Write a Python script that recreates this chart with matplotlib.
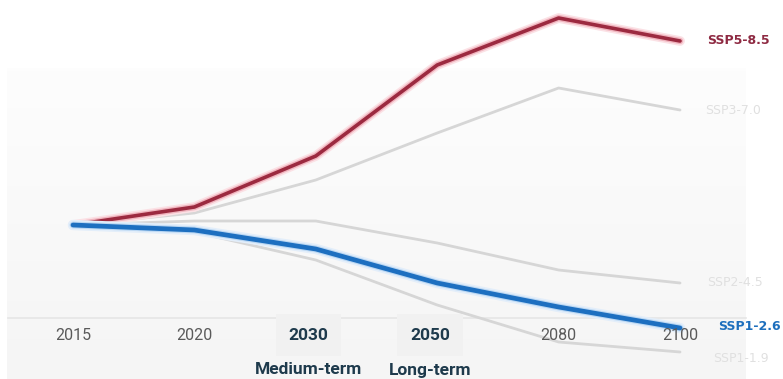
import numpy as np
import matplotlib
matplotlib.use('Agg')
import matplotlib.pyplot as plt
import matplotlib.patheffects as pe

plt.rcParams['font.family'] = ['Roboto', 'DejaVu Sans']

# データ (2015年を基準にした相対値)
years = ['2015', '2020', '2030', '2050', '2080', '2100']
ssp585 = [0, 18, 69, 160, 207, 184]
ssp370 = [0, 12, 45, 92, 137, 115]
ssp245 = [0, 4, 4, -18, -45, -58]
ssp126 = [0, -5, -24, -58, -82, -103]
ssp119 = [0, -7, -35, -80, -117, -127]
bold_years = ['2030', '2050']
term_labels = {'2030': 'Medium-term', '2050': 'Long-term'}

fig = plt.figure(figsize=(7.83, 3.79), dpi=100)
ax = fig.add_axes([0, 0, 1, 1])
ax.set_xlim(-0.601, 5.848)
ax.set_ylim(-154, 225)
ax.axis('off')

# 背景のグラデーション
grad = np.linspace(0, 1, 100).reshape(-1, 1)
ax.imshow(grad, extent=[-0.54, 5.54, -154, 157], aspect='auto',
          cmap=matplotlib.colors.LinearSegmentedColormap.from_list('bg', ['#f5f5f5', '#fdfdfd']),
          origin='lower', zorder=0)
ax.axhline(-93, xmin=0.01, xmax=0.953, color='#e6e6e6', lw=1.2, zorder=1)

x = np.arange(len(years))

# グレーの線
for s in [ssp370, ssp245, ssp119]:
    ax.plot(x, s, color='#d6d6d6', lw=2, zorder=2, solid_capstyle='round')

# 強調する線
ax.plot(x, ssp585, color='#9c2a40', lw=2.6, zorder=4, solid_capstyle='round',
        path_effects=[pe.Stroke(linewidth=7, foreground='#fbe1e5'),
                      pe.Stroke(linewidth=4.6, foreground='#f0b4be'), pe.Normal()])
ax.plot(x, ssp126, color='#1d6fc0', lw=3.4, zorder=5, solid_capstyle='round',
        path_effects=[pe.Stroke(linewidth=7.5, foreground='#e3eefa'),
                      pe.Stroke(linewidth=5.0, foreground='#bcd8f3'), pe.Normal()])

# 右側のラベル
lab = dict(fontsize=9, va='center', family=['DejaVu Sans'])
ax.text(5.22, 184, 'SSP5-8.5', color='#8e2a42', fontweight='bold', **lab)
ax.text(5.21, 115, 'SSP3-7.0', color='#e0e0e0', **lab)
ax.text(5.22, -58, 'SSP2-4.5', color='#e0e0e0', **lab)
ax.text(5.31, -102, 'SSP1-2.6', color='#1d6fbd', fontweight='bold', **lab)
ax.text(5.27, -134, 'SSP1-1.9', color='#e0e0e0', **lab)

# 年のラベル
for i, y in enumerate(years):
    if y in bold_years:
        ax.text(i - 0.06, -110, y, color='#1e3a4c', fontsize=12.5, fontweight='bold',
                ha='center', va='center', zorder=3,
                bbox=dict(boxstyle='square,pad=0.75', fc='#f1f1f1', ec='none'))
        ax.text(i - 0.06, -145, term_labels[y], color='#1e3a4c', fontsize=12.5,
                fontweight='bold', ha='center', va='center', zorder=5)
    else:
        ax.text(i, -110, y, color='#5a5a5a', fontsize=11.5, ha='center', va='center', zorder=6)

fig.savefig('out.png', dpi=100)
